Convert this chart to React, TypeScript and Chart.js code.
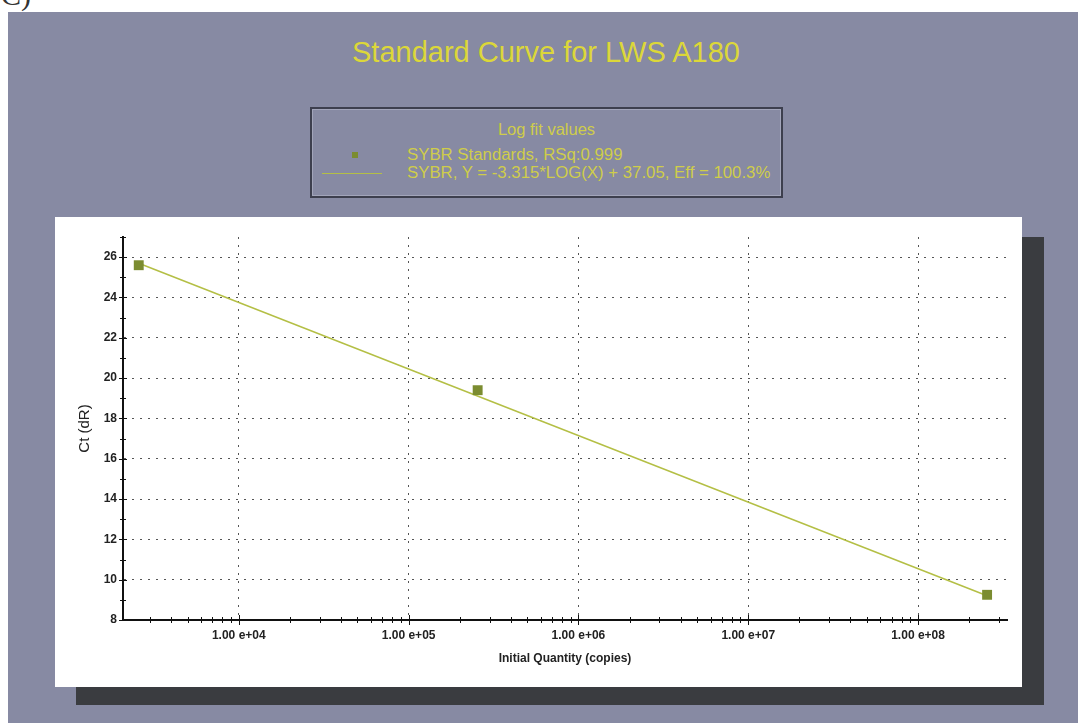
import React, { useEffect, useRef } from "react";
import { Chart, registerables } from "chart.js";

Chart.register(...registerables);

// ---- data ----
const pointX = [2575, 255000, 255000000];
const pointY = [25.6, 19.4, 9.25];
const fitX = [2575, 255000000];
const fitY = [25.7, 9.2];
const xMajorTicks = [1e4, 1e5, 1e6, 1e7, 1e8];
const yMajorTicks = [8, 10, 12, 14, 16, 18, 20, 22, 24, 26];
const xMin = 2080;
const xMax = 3.34e8;
const yMin = 8;
const yMax = 27;

const titleText = "Standard Curve for LWS A180";
const legendTitle = "Log fit values";
const pointLabel = "SYBR Standards, RSq:0.999";
const fitLabel = "SYBR, Y = -3.315*LOG(X) + 37.05, Eff = 100.3%";
const xTitle = "Initial Quantity (copies)";
const yTitle = "Ct (dR)";

const GRAY = "#878aa3";
const YELLOW_TITLE = "#dcd739";
const YELLOW_LEG = "#cfcd4a";
const POINT_GREEN = "#7b8c30";
const LINE_GREEN = "#b4bf45";
const SANS = '"Liberation Sans", Arial, sans-serif';

const fmtExp = (v: number) => {
  const e = Math.round(Math.log10(v));
  return "1.00 e+" + String(e).padStart(2, "0");
};

const tickMarks = {
  id: "tickMarks",
  afterDraw(chart: any) {
    const { ctx, scales, chartArea } = chart;
    const x = scales.x;
    const y = scales.y;
    ctx.save();
    ctx.strokeStyle = "#111";
    ctx.lineWidth = 1;
    const ax = Math.round(chartArea.left);
    for (let v = yMin; v <= yMax; v++) {
      const py = Math.round(y.getPixelForValue(v)) + 0.5;
      const len = v % 2 === 0 ? 4 : 3;
      ctx.beginPath();
      ctx.moveTo(ax - len, py);
      ctx.lineTo(ax + len, py);
      ctx.stroke();
    }
    const ay = Math.round(chartArea.bottom);
    const e0 = Math.floor(Math.log10(xMin));
    const e1 = Math.ceil(Math.log10(xMax));
    for (let e = e0; e <= e1; e++) {
      for (let m = 1; m <= 9; m++) {
        const v = m * Math.pow(10, e);
        if (v < xMin || v > xMax) continue;
        const px = Math.round(x.getPixelForValue(v)) + 0.5;
        const len = m === 1 ? 5 : 3;
        ctx.beginPath();
        ctx.moveTo(px, ay - len);
        ctx.lineTo(px, ay + len);
        ctx.stroke();
      }
    }
    ctx.restore();
  },
};

function StandardCurve() {
  const ref = useRef<HTMLCanvasElement | null>(null);
  useEffect(() => {
    if (!ref.current) return;
    const chart = new Chart(ref.current, {
      type: "scatter",
      data: {
        datasets: [
          {
            label: fitLabel,
            data: fitX.map((x, i) => ({ x, y: fitY[i] })),
            showLine: true,
            borderColor: LINE_GREEN,
            borderWidth: 1.5,
            pointRadius: 0,
            order: 2,
          } as any,
          {
            label: pointLabel,
            data: pointX.map((x, i) => ({ x, y: pointY[i] })),
            pointStyle: "rect",
            pointRadius: 7,
            backgroundColor: POINT_GREEN,
            borderColor: POINT_GREEN,
            borderWidth: 0,
            order: 1,
          } as any,
        ],
      },
      options: {
        animation: false,
        responsive: false,
        maintainAspectRatio: false,
        layout: { padding: { left: 0, right: 15, top: 20, bottom: 0 } },
        plugins: {
          legend: { display: false },
          tooltip: { enabled: false },
          title: { display: false },
        },
        scales: {
          x: {
            type: "logarithmic",
            min: xMin,
            max: xMax,
            afterBuildTicks: (s: any) => {
              s.ticks = xMajorTicks.map((v) => ({ value: v }));
            },
            afterFit: (s: any) => {
              s.height = 67;
            },
            ticks: {
              callback: (v: any) => fmtExp(Number(v)),
              autoSkip: false,
              maxRotation: 0,
              padding: 8,
              color: "#222",
              font: { family: SANS, size: 12, weight: "bold" },
            },
            grid: { color: "#555", lineWidth: 1, drawTicks: false },
            border: { display: true, color: "#111", width: 2, dash: [2, 6] },
            title: {
              display: true,
              text: xTitle,
              color: "#222",
              font: { family: SANS, size: 12, weight: "bold" },
              padding: { top: 0, bottom: 21 },
            },
          },
          y: {
            type: "linear",
            min: yMin,
            max: yMax,
            afterBuildTicks: (s: any) => {
              s.ticks = yMajorTicks.map((v) => ({ value: v }));
            },
            afterFit: (s: any) => {
              s.width = 68;
            },
            ticks: {
              padding: 6,
              color: "#222",
              font: { family: SANS, size: 12, weight: "bold" },
            },
            grid: {
              color: (c: any) => (c.tick && c.tick.value === yMin ? "rgba(0,0,0,0)" : "#555"),
              lineWidth: 1,
              drawTicks: false,
            },
            border: { display: true, color: "#111", width: 2, dash: [2, 6] },
            title: {
              display: true,
              text: yTitle,
              color: "#222",
              font: { family: SANS, size: 15 },
              padding: { top: 21, bottom: 0 },
            },
          },
        },
      } as any,
      plugins: [tickMarks],
    });
    return () => chart.destroy();
  }, []);
  return (
    <canvas
      ref={ref}
      width={967}
      height={470}
      style={{ position: "absolute", left: 0, top: 0, width: 967, height: 470 }}
    />
  );
}

export default function App() {
  return (
    <div
      style={{
        position: "fixed",
        left: 0,
        top: 0,
        width: 1078,
        height: 723,
        background: "#fff",
        overflow: "hidden",
        fontFamily: SANS,
      }}
    >
      <div
        style={{
          position: "absolute",
          left: 1,
          top: -22,
          fontFamily: '"Liberation Serif", serif',
          fontSize: 30,
          lineHeight: "34px",
          color: "#333",
        }}
      >
        C)
      </div>
      <div style={{ position: "absolute", left: 8, top: 12, right: 0, bottom: 0, background: GRAY }} />
      <div
        style={{
          position: "absolute",
          left: 0,
          width: 1092,
          top: 35,
          textAlign: "center",
          fontSize: 29,
          lineHeight: "34px",
          color: YELLOW_TITLE,
        }}
      >
        {titleText}
      </div>
      <div
        style={{
          position: "absolute",
          left: 310,
          top: 107,
          width: 473,
          height: 91,
          boxSizing: "border-box",
          border: "2px solid #3d3f4e",
          boxShadow: "inset 0 0 0 1px #a2a5ba",
          background: GRAY,
        }}
      >
        <div
          style={{
            position: "absolute",
            left: 0,
            right: 0,
            top: 11,
            textAlign: "center",
            fontSize: 16.5,
            lineHeight: "18px",
            color: YELLOW_LEG,
          }}
        >
          {legendTitle}
        </div>
        <div style={{ position: "absolute", left: 40, top: 43, width: 6, height: 6, background: POINT_GREEN }} />
        <div style={{ position: "absolute", left: 10, top: 64, width: 60, height: 1, background: LINE_GREEN }} />
        <div
          style={{
            position: "absolute",
            left: 95,
            top: 37,
            fontSize: 16.8,
            lineHeight: "18px",
            color: YELLOW_LEG,
            whiteSpace: "nowrap",
          }}
        >
          {pointLabel}
        </div>
        <div
          style={{
            position: "absolute",
            left: 95,
            top: 55,
            fontSize: 16.8,
            lineHeight: "18px",
            color: YELLOW_LEG,
            whiteSpace: "nowrap",
          }}
        >
          {fitLabel}
        </div>
      </div>
      <div style={{ position: "absolute", left: 76, top: 237, width: 968, height: 468, background: "#3a3c40" }} />
      <div style={{ position: "absolute", left: 55, top: 217, width: 967, height: 470, background: "#fff" }}>
        <StandardCurve />
      </div>
    </div>
  );
}
